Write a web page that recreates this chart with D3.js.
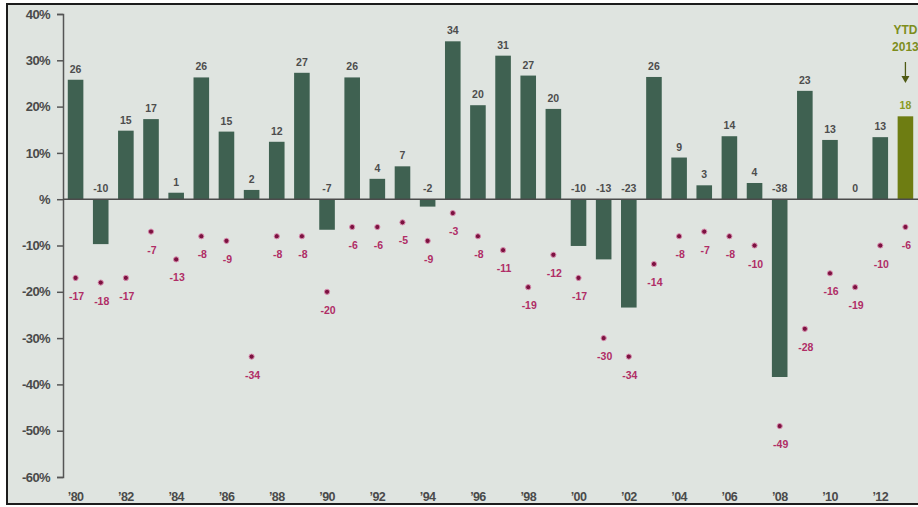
<!DOCTYPE html>
<html>
<head>
<meta charset="utf-8">
<script src="https://cdn.jsdelivr.net/npm/d3@7"></script>
<style>
  html, body { margin: 0; padding: 0; background: #fff; }
  svg { display: block; font-family: "Liberation Sans", Arial, sans-serif; }
</style>
</head>
<body>
<svg id="chart" width="918" height="507"></svg>
<script>
// calendar years, 1980 .. 2013 (2013 is year-to-date)
const years = d3.range(1980, 2014);
// calendar-year returns (%)
const returns = [25.8, -9.7, 14.8, 17.3, 1.4, 26.3, 14.6, 2.0, 12.4, 27.3,
  -6.6, 26.3, 4.4, 7.1, -1.6, 34.1, 20.3, 31.0, 26.7, 19.5,
  -10.1, -13.0, -23.4, 26.4, 9.0, 3.0, 13.6, 3.5, -38.4, 23.4,
  12.8, 0.0, 13.4, 17.9];
// intra-year declines (%)
const drops = [-17, -18, -17, -7, -13, -8, -9, -34, -8, -8,
  -20, -6, -6, -5, -9, -3, -8, -11, -19, -12,
  -17, -30, -34, -14, -8, -7, -8, -10, -49, -28,
  -16, -19, -10, -6];
const yTicks = [40, 30, 20, 10, 0, -10, -20, -30, -40, -50, -60];
const xTickYears = d3.range(1980, 2013, 2);

const data = years.map((yr, i) => ({ yr, ret: returns[i], drop: drops[i] }));

const svg = d3.select('#chart');
const W = 918, H = 507;

svg.append('rect').attr('x', 7).attr('y', 4).attr('width', W).attr('height', 500)
  .attr('fill', '#dfe4e0').attr('stroke', '#1c1c1c').attr('stroke-width', 2);

const x = d3.scaleBand().domain(years).range([63, 918]).paddingInner(0.38).paddingOuter(0.19);
const y = d3.scaleLinear().domain([-60, 40]).range([477, 14]);

// y axis
const yAxis = svg.append('g').attr('transform', 'translate(63,0)')
  .call(d3.axisLeft(y).tickValues(yTicks).tickSize(6).tickSizeOuter(6).tickPadding(7)
    .tickFormat(d => d === 0 ? '%' : d + '%'));
yAxis.select('.domain').attr('stroke', '#555').attr('stroke-width', 1.5);
yAxis.selectAll('.tick line').attr('stroke', '#555').attr('stroke-width', 1.5);
yAxis.selectAll('.tick text').attr('fill', '#4a4a4a').attr('font-size', 13)
  .attr('font-weight', 'bold').attr('letter-spacing', -0.6).attr('font-family', 'inherit');

// bars
svg.append('g').selectAll('rect').data(data).join('rect')
  .attr('x', d => x(d.yr))
  .attr('width', x.bandwidth())
  .attr('y', d => y(Math.max(0, d.ret)))
  .attr('height', d => Math.abs(y(d.ret) - y(0)))
  .attr('fill', d => d.yr === 2013 ? '#6e7d12' : '#3f6151');

// zero line
svg.append('line').attr('x1', 63).attr('x2', W).attr('y1', y(0)).attr('y2', y(0))
  .attr('stroke', '#4b4b4b').attr('stroke-width', 1.5);

// bar labels
svg.append('g').selectAll('text').data(data).join('text')
  .attr('x', d => x(d.yr) + x.bandwidth() / 2)
  .attr('y', d => y(Math.max(0, d.ret)) - 7)
  .attr('text-anchor', 'middle')
  .attr('font-size', 10.5).attr('font-weight', 'bold')
  .attr('fill', d => d.yr === 2013 ? '#8a9a22' : '#4d4d4d')
  .text(d => Math.round(d.ret));

// intra-year decline dots
svg.append('g').selectAll('circle').data(data).join('circle')
  .attr('cx', d => x(d.yr) + x.bandwidth() / 2)
  .attr('cy', d => y(d.drop))
  .attr('r', 2.6)
  .attr('fill', '#7c1240')
  .attr('stroke', '#d98fb0').attr('stroke-width', 1);

svg.append('g').selectAll('text').data(data).join('text')
  .attr('x', d => x(d.yr) + x.bandwidth() / 2 + 1)
  .attr('y', d => y(d.drop) + 22)
  .attr('text-anchor', 'middle')
  .attr('font-size', 10.5).attr('font-weight', 'bold')
  .attr('fill', '#b02d66')
  .text(d => d.drop);

// x axis labels
const xAxis = svg.append('g').attr('transform', 'translate(0,492)')
  .call(d3.axisBottom(x).tickValues(xTickYears).tickSize(0).tickPadding(0)
    .tickFormat(d => '\u2019' + String(d).slice(2)));
xAxis.select('.domain').remove();
xAxis.selectAll('.tick text').attr('fill', '#4a4a4a').attr('font-size', 12.5)
  .attr('font-weight', 'bold').attr('letter-spacing', -0.6).attr('font-family', 'inherit');

// YTD 2013 callout
const cx13 = x(2013) + x.bandwidth() / 2;
const callout = svg.append('g').attr('fill', '#7d8d1c').attr('font-size', 12)
  .attr('font-weight', 'bold').attr('text-anchor', 'middle');
callout.append('text').attr('x', cx13).attr('y', 34).text('YTD');
callout.append('text').attr('x', cx13).attr('y', 51).text('2013');
svg.append('line').attr('x1', cx13).attr('x2', cx13).attr('y1', 62).attr('y2', 78)
  .attr('stroke', '#4f5a14').attr('stroke-width', 1.3);
svg.append('path')
  .attr('d', `M${cx13 - 4},76 L${cx13 + 4},76 L${cx13},83 Z`)
  .attr('fill', '#4f5a14');
</script>
</body>
</html>
